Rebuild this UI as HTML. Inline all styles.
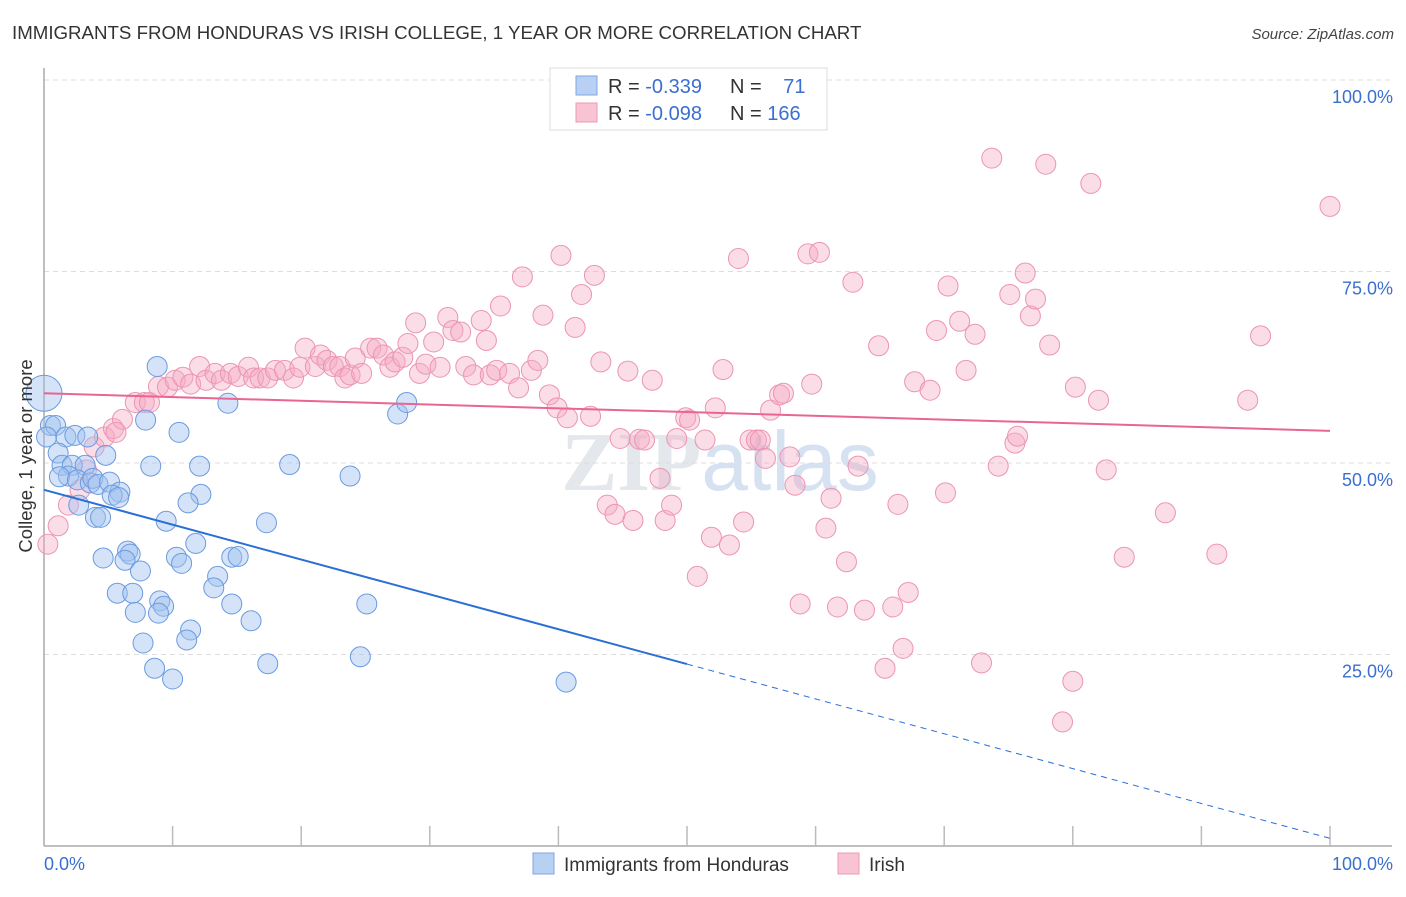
<!DOCTYPE html>
<html><head><meta charset="utf-8"><style>
body{margin:0;background:#fff;font-family:"Liberation Sans",sans-serif;}
svg text{font-family:"Liberation Sans",sans-serif;}
</style></head><body>
<svg id="chart" width="1406" height="892" viewBox="0 0 1406 892" xmlns="http://www.w3.org/2000/svg">
<text x="12" y="39" font-size="18.7" fill="#333">IMMIGRANTS FROM HONDURAS VS IRISH COLLEGE, 1 YEAR OR MORE CORRELATION CHART</text>
<text x="1394" y="39" font-size="15" fill="#444" text-anchor="end" font-style="italic">Source: ZipAtlas.com</text>
<text x="720" y="490" font-size="84" fill="#d9dde3" text-anchor="middle" opacity="0.7"><tspan font-family="Liberation Serif" font-weight="bold">ZIP</tspan><tspan fill="#c6d6ec">atlas</tspan></text>
<g id="grid"></g>
<g id="axes"></g>
<g id="pink"></g>
<g id="blue"></g>
<g id="lines"></g>
<text transform="translate(32,456) rotate(-90)" font-size="18.5" fill="#333" text-anchor="middle">College, 1 year or more</text>
<g>
<rect x="550" y="68" width="277" height="62" fill="#fff" stroke="#ddd"/>
<rect x="576" y="76" width="21" height="19" fill="#b8d0f4" stroke="#7fa6e0"/>
<rect x="576" y="103" width="21" height="19" fill="#f8c4d4" stroke="#ec9ab4"/>
<text x="608" y="93" font-size="20" fill="#333">R = <tspan fill="#3a6fd0">-0.339</tspan></text>
<text x="730" y="93" font-size="20" fill="#333">N = <tspan fill="#3a6fd0" dx="16">71</tspan></text>
<text x="608" y="120" font-size="20" fill="#333">R = <tspan fill="#3a6fd0">-0.098</tspan></text>
<text x="730" y="120" font-size="20" fill="#333">N = <tspan fill="#3a6fd0">166</tspan></text>
</g>
<g>
<rect x="533" y="853" width="21" height="21" fill="#b8d0f4" stroke="#7fa6e0"/>
<text x="564" y="871" font-size="19" fill="#333">Immigrants from Honduras</text>
<rect x="838" y="853" width="21" height="21" fill="#f8c4d4" stroke="#ec9ab4"/>
<text x="869" y="871" font-size="19" fill="#333">Irish</text>
</g>
</svg>
<script>
const blueX=[0,0.5,0.9,0.2,1.7,2.4,3.4,1.1,1.4,2.2,3.2,1.9,1.2,2.6,3.6,3.8,4.2,5.1,5.9,5.3,5.8,4.8,2.7,4.0,4.4,4.6,6.5,6.7,6.3,7.5,5.7,6.9,9.0,9.3,7.1,8.9,7.7,11.4,11.1,8.6,10.0,8.8,7.9,10.5,8.3,12.1,14.3,12.2,11.2,9.5,11.8,10.3,10.7,13.5,13.2,14.6,15.1,14.6,16.1,17.3,19.1,17.4,23.8,24.6,25.1,27.5,28.2,40.6];
const blueY=[59.1,54.9,54.9,53.4,53.4,53.6,53.4,51.3,49.7,49.7,49.7,48.3,48.2,47.8,47.4,48.0,47.2,47.5,46.2,45.8,45.5,51.0,44.5,42.9,42.9,37.6,38.5,38.1,37.3,35.9,33.0,33.0,32.0,31.3,30.5,30.4,26.5,28.2,26.9,23.2,21.8,62.6,55.6,54.0,49.6,49.6,57.8,45.9,44.8,42.4,39.5,37.7,36.9,35.2,33.7,37.7,37.8,31.6,29.4,42.2,49.8,23.8,48.3,24.7,31.6,56.4,57.9,21.4];
const pinkX=[0.3,1.1,1.9,2.8,3.3,3.9,4.7,5.4,6.1,5.6,7.1,7.8,8.2,8.9,9.6,10.2,10.8,11.4,12.1,12.6,13.3,13.8,14.5,15.1,15.9,16.3,16.8,17.4,18.0,18.7,19.4,19.9,20.3,21.1,21.5,22.0,22.5,23.0,23.4,23.8,24.2,24.7,25.4,25.9,26.4,26.9,27.3,27.9,28.3,28.9,29.2,29.7,30.3,30.8,31.4,31.8,32.4,32.8,33.4,34.0,34.4,34.7,35.2,35.5,36.2,36.9,37.2,37.9,38.4,38.8,39.3,39.9,40.2,40.7,41.3,41.8,42.5,42.8,43.3,43.8,44.4,44.8,45.4,45.8,46.3,46.7,47.3,47.9,48.3,48.8,49.2,49.9,50.2,50.8,51.4,51.9,52.2,52.8,53.3,54.0,54.4,54.9,55.4,55.7,56.1,56.5,57.2,57.5,58.0,58.4,58.8,59.4,59.7,60.3,60.8,61.2,61.7,62.4,62.9,63.3,63.8,64.9,65.4,66.0,66.4,66.8,67.2,67.7,68.9,69.4,70.1,70.3,71.2,71.7,72.4,72.9,73.7,74.2,75.1,75.5,75.7,76.3,76.7,77.1,78.2,77.9,79.2,80.0,80.2,81.4,82.0,82.6,84.0,87.2,91.2,93.6,94.6,100];
const pinkY=[39.4,41.8,44.5,46.5,49.1,52.1,53.4,54.5,55.7,54.0,57.9,57.9,57.9,60.0,59.9,60.8,61.2,60.3,62.6,60.8,61.7,60.8,61.7,61.3,62.5,61.1,61.1,61.1,62.1,62.1,61.1,62.5,65.0,62.6,64.1,63.4,62.6,62.6,61.1,61.5,63.7,61.7,65.0,65.0,64.1,62.5,63.2,63.8,65.6,68.3,61.7,62.9,65.8,62.5,69.0,67.3,67.1,62.6,61.5,68.6,66.0,61.5,62.1,70.5,61.7,59.8,74.3,62.1,63.4,69.3,58.9,57.2,77.1,55.9,67.7,72.0,56.1,74.5,63.2,44.5,43.3,53.2,62.0,42.5,53.1,53.0,60.8,48.0,42.5,44.5,53.2,55.9,55.6,35.2,53.0,40.3,57.2,62.2,39.3,76.7,42.3,53.0,53.0,53.0,50.6,56.9,58.9,59.1,50.8,47.1,31.6,77.3,60.3,77.5,41.5,45.4,31.2,37.1,73.6,49.6,30.8,65.3,23.2,31.2,44.6,25.8,33.1,60.6,59.5,67.3,46.1,73.1,68.5,62.1,66.8,23.9,89.8,49.6,72.0,52.6,53.5,74.8,69.2,71.4,65.4,89.0,16.2,21.5,59.9,86.5,58.2,49.1,37.7,43.5,38.1,58.2,66.6,83.5];
const trendStart=[46.5,59.1];
const trendEnd=[1.0,54.2];
const yTicks=[25,50,75,100];
const xTicks=[0,10,20,30,40,50,60,70,80,90,100];

const NS="http://www.w3.org/2000/svg";
const X0=44,X1=1330,Y0=846,Y100=80;
const sx=v=>X0+(X1-X0)*v/100;
const sy=v=>Y0-(Y0-Y100)*v/100;
function mk(tag,attrs,parent){const e=document.createElementNS(NS,tag);for(const k in attrs)e.setAttribute(k,attrs[k]);document.getElementById(parent).appendChild(e);return e;}

yTicks.forEach(t=>{
  const g=mk('line',{x1:X0,x2:1392,y1:sy(t),y2:sy(t),stroke:'#ddd','stroke-dasharray':'5,4'},'grid');
  
  
  const l=mk('text',{x:1393,y:sy(t)+23,'font-size':18,fill:'#3a6fd0','text-anchor':'end'},'grid');
  l.textContent=t.toFixed(1)+'%';
  
  
});
const ya=mk('line',{x1:X0,x2:X0,y1:68,y2:Y0,stroke:'#aaa','stroke-width':1.5},'axes');


const xa=mk('line',{x1:X0,x2:1392,y1:Y0,y2:Y0,stroke:'#aaa','stroke-width':1.5},'axes');


xTicks.slice(1).forEach(t=>{
  const k=mk('line',{x1:sx(t),x2:sx(t),y1:826,y2:Y0,stroke:'#bbb','stroke-width':1.5},'axes');
  
  
});
[[0,'start',X0],[100,'end',1393]].forEach(([t,a,x])=>{
  const l=mk('text',{x:x,y:870,'font-size':18,fill:'#3a6fd0','text-anchor':a},'axes');
  l.textContent=t.toFixed(1)+'%';
  
  
});
pinkX.forEach((x,i)=>{
  const c=mk('circle',{cx:sx(x),cy:sy(pinkY[i]),r:10,fill:'rgba(246,170,196,0.4)',stroke:'#ec94b2','stroke-width':1},'pink');
  
  
});
blueX.forEach((x,i)=>{
  const c=mk('circle',{cx:sx(x),cy:sy(blueY[i]),r:i===0?18:10,fill:'rgba(160,192,240,0.45)',stroke:'#6a9ae0','stroke-width':1},'blue');
  
  
});
const bm=trendStart[0]+(trendEnd[0]-trendStart[0])*0.5;
const b1=mk('line',{x1:sx(0),y1:sy(trendStart[0]),x2:sx(50),y2:sy(bm),stroke:'#2a6fd6','stroke-width':2},'lines');


const b2=mk('line',{x1:sx(50),y1:sy(bm),x2:sx(100),y2:sy(trendEnd[0]),stroke:'#2a6fd6','stroke-width':1,'stroke-dasharray':'6,5'},'lines');


const p1=mk('line',{x1:sx(0),y1:sy(trendStart[1]),x2:sx(100),y2:sy(trendEnd[1]),stroke:'#e8668f','stroke-width':2},'lines');


</script>
</body></html>
